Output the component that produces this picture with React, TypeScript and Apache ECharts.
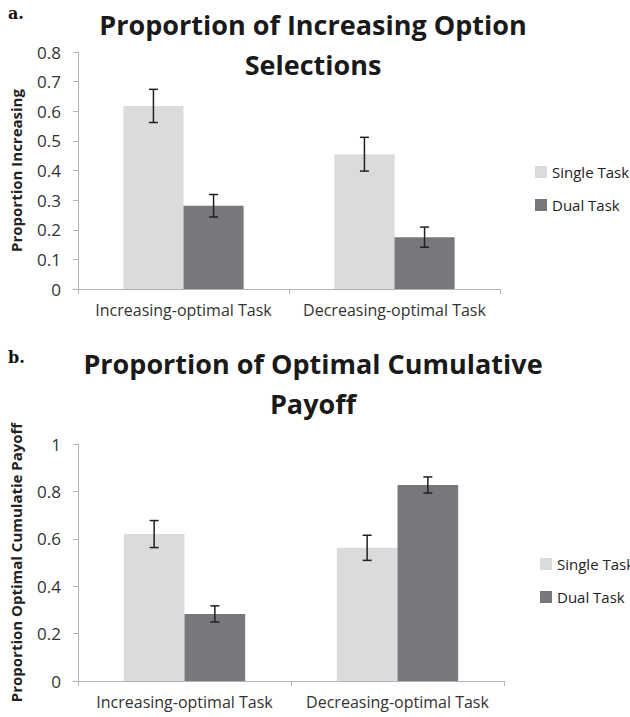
import React, { useEffect, useRef } from "react";
import * as echarts from "echarts";

const categories = ["Increasing-optimal Task", "Decreasing-optimal Task"];
const seriesNames = ["Single Task", "Dual Task"];

const aSingle = [0.618, 0.455];
const aSingleErr = [0.056, 0.057];
const aDual = [0.281, 0.175];
const aDualErr = [0.038, 0.034];

const bSingle = [0.62, 0.562];
const bSingleErr = [0.057, 0.053];
const bDual = [0.283, 0.827];
const bDualErr = [0.034, 0.034];

const titleA = ["Proportion of Increasing Option", "Selections"];
const titleB = ["Proportion of Optimal Cumulative", "Payoff"];
const yNameA = "Proportion Increasing";
const yNameB = "Proportion Optimal Cumulatie Payoff";

const SINGLE = "#dadbdd";
const DUAL = "#77787b";
const AXIS = "#b3b3b3";
const TEXT = "#333333";
const FONT = "'Open Sans', sans-serif";
const BAR_FRAC = 0.285;

function errData(vals: number[], errs: number[]) {
  return vals.map((v, i) => [i, v - errs[i], v + errs[i]]);
}

function errRender(side: number) {
  return (params: any, api: any) => {
    const i = api.value(0);
    const catW = api.size([1, 0])[0];
    const x = api.coord([i, 0])[0] + side * catW * BAR_FRAC / 2;
    const yl = api.coord([i, api.value(1)])[1];
    const yh = api.coord([i, api.value(2)])[1];
    const cap = 4.5;
    const st = { stroke: "#231f20", lineWidth: 1.5 };
    return {
      type: "group",
      children: [
        { type: "line", shape: { x1: x, y1: yl, x2: x, y2: yh }, style: st },
        { type: "line", shape: { x1: x - cap, y1: yh, x2: x + cap, y2: yh }, style: st },
        { type: "line", shape: { x1: x - cap, y1: yl, x2: x + cap, y2: yl }, style: st },
      ],
    };
  };
}

export default function App() {
  const ref = useRef<HTMLDivElement>(null);
  useEffect(() => {
    if (!ref.current) return;
    const chart = echarts.init(ref.current, undefined, { renderer: "svg" });
    const xAxisBase = (gi: number) => ({
      type: "category",
      gridIndex: gi,
      data: categories,
      axisLine: { lineStyle: { color: AXIS, width: 1 } },
      axisTick: { show: true, length: 5, lineStyle: { color: AXIS } },
      axisLabel: { color: TEXT, fontSize: 16, fontFamily: FONT, margin: 13, interval: 0, hideOverlap: false },
      splitLine: { show: false },
    });
    const yAxisBase = (gi: number, max: number, interval: number, name: string) => ({
      type: "value",
      gridIndex: gi,
      min: 0,
      max,
      interval,
      name,
      nameLocation: "middle",
      nameGap: 55,
      nameTextStyle: { color: "#222", fontSize: 15, fontWeight: "bold", fontFamily: FONT },
      axisLine: { show: true, lineStyle: { color: AXIS, width: 1 } },
      axisTick: { show: true, length: 5, lineStyle: { color: AXIS } },
      axisLabel: { color: TEXT, fontSize: 17, fontFamily: FONT, margin: 17 },
      splitLine: { show: false },
    });
    const barSeries = (name: string, gi: number, data: number[], color: string) => ({
      type: "bar",
      name,
      xAxisIndex: gi,
      yAxisIndex: gi,
      data,
      barWidth: BAR_FRAC * 100 + "%",
      barGap: "0%",
      itemStyle: { color },
    });
    const errSeries = (gi: number, vals: number[], errs: number[], side: number) => ({
      type: "custom",
      name: "err" + gi + side,
      xAxisIndex: gi,
      yAxisIndex: gi,
      data: errData(vals, errs),
      encode: { x: 0, y: [1, 2] },
      renderItem: errRender(side),
      z: 10,
    });
    const legendBase = (top: number, left: number) => ({
      data: seriesNames,
      orient: "vertical",
      left,
      top,
      icon: "rect",
      itemWidth: 12,
      itemHeight: 12,
      itemGap: 13,
      textStyle: { color: "#222", fontSize: 15, fontFamily: FONT, lineHeight: 20 },
      selectedMode: false,
    });
    const titleText = (lines: string[], y1: number) =>
      lines.map((t, k) => ({
        type: "text",
        x: 313,
        y: y1 + k * 40,
        style: {
          text: t,
          align: "center",
          verticalAlign: "middle",
          fill: "#1a1a1a",
          font: "bold 27px " + FONT,
        },
      }));
    chart.setOption({
      animation: false,
      grid: [
        { left: 72, top: 52, width: 428, height: 237 },
        { left: 72, top: 444, width: 432, height: 237 },
      ],
      xAxis: [xAxisBase(0), xAxisBase(1)],
      yAxis: [yAxisBase(0, 0.8, 0.1, yNameA), yAxisBase(1, 1, 0.2, yNameB)],
      legend: [legendBase(157, 530), legendBase(549, 535)],
      series: [
        barSeries(seriesNames[0], 0, aSingle, SINGLE),
        barSeries(seriesNames[1], 0, aDual, DUAL),
        barSeries(seriesNames[0], 1, bSingle, SINGLE),
        barSeries(seriesNames[1], 1, bDual, DUAL),
        errSeries(0, aSingle, aSingleErr, -1),
        errSeries(0, aDual, aDualErr, 1),
        errSeries(1, bSingle, bSingleErr, -1),
        errSeries(1, bDual, bDualErr, 1),
      ],
      graphic: [
        ...titleText(titleA, 24),
        ...titleText(titleB, 363),
        {
          type: "text",
          x: 8,
          y: 13,
          style: { text: "a.", fill: "#111", font: "bold 16px 'DejaVu Serif', 'Liberation Serif', serif", verticalAlign: "middle" },
        },
        {
          type: "text",
          x: 8,
          y: 357,
          style: { text: "b.", fill: "#111", font: "bold 16px 'DejaVu Serif', 'Liberation Serif', serif", verticalAlign: "middle" },
        },
      ],
    });
    return () => chart.dispose();
  }, []);
  return (
    <div
      ref={ref}
      style={{ position: "fixed", left: 0, top: 0, width: 630, height: 717, background: "#fff" }}
    />
  );
}
